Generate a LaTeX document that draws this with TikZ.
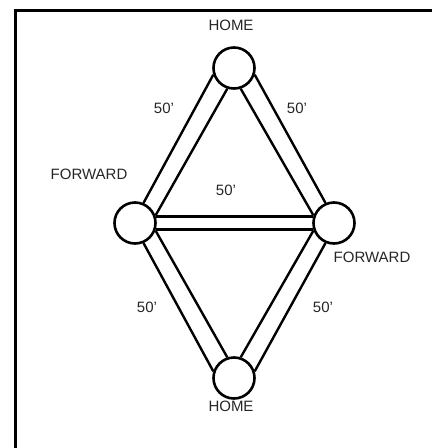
\documentclass[tikz,border=0pt]{standalone}
\usepackage{fontspec}
\setmainfont{Liberation Sans}
\begin{document}
\begin{tikzpicture}[x=1pt, y=-1pt,
    base/.style={circle, draw, line width=2.6pt, minimum size=41pt, inner sep=0pt},
    rope/.style={line width=2.4pt},
    lbl/.style={text=black!85, font=\fontsize{15}{17}\selectfont, inner sep=0pt}]
    \useasboundingbox (0,0) rectangle (432,448);
    %% frame
    \draw[line width=3pt] (15,448) -- (15,10) -- (432,10);

    %% bases
    \node[base] (ht) at (234,68) {};
    \node[base] (fl) at (135,223) {};
    \node[base] (fr) at (334,223) {};
    \node[base] (hb) at (234,378) {};

    %% paths between bases
    \draw[rope] (fl.67) -- (ht.198) (fl.20) -- (ht.252);
    \draw[rope] (fr.113) -- (ht.342) (fr.160) -- (ht.288);
    \draw[rope] (fl.17) -- (fr.163) (fl.-17) -- (fr.197);
    \draw[rope] (fl.293) -- (hb.162) (fl.340) -- (hb.108);
    \draw[rope] (fr.247) -- (hb.18) (fr.200) -- (hb.72);

    %% labels
    \node[lbl] (hometop) at (231,25) {HOME};
    \node[lbl] (homebot) at (231,406) {HOME};
    \node[lbl] (fwdleft) at (89,174) {FORWARD};
    \node[lbl] (fwdright) at (372,257) {FORWARD};
    \node[lbl] (dul) at (164,108) {50'};
    \node[lbl] (dur) at (297,108) {50'};
    \node[lbl] (dmid) at (226,190) {50'};
    \node[lbl] (dll) at (147,307) {50'};
    \node[lbl] (dlr) at (323,307) {50'};
\end{tikzpicture}
\end{document}
